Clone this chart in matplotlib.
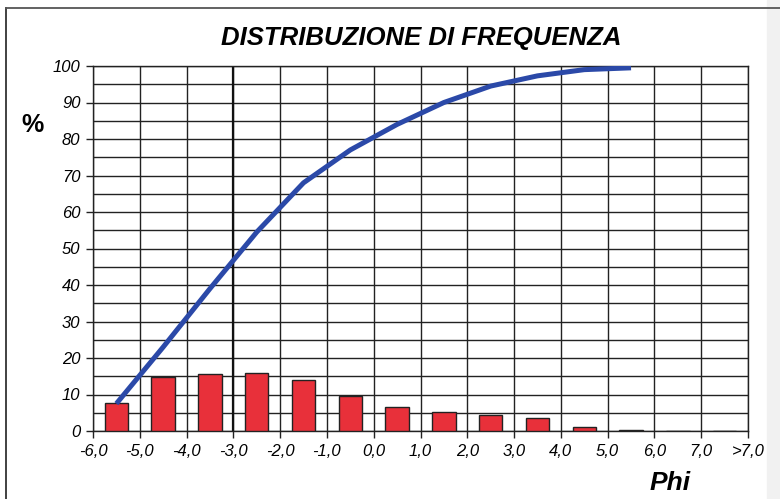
import numpy as np
import matplotlib
matplotlib.use("Agg")
from matplotlib import pyplot as plt

plt.rcParams["font.family"] = ["Liberation Sans", "DejaVu Sans"]

# classi Phi (etichette sui bordi delle classi)
tick_labels = ["-6,0", "-5,0", "-4,0", "-3,0", "-2,0", "-1,0", "0,0", "1,0",
               "2,0", "3,0", "4,0", "5,0", "6,0", "7,0", ">7,0"]
# frequenza percentuale per classe
freq = [7.7, 14.9, 15.6, 15.8, 14.0, 9.6, 6.5, 5.3, 4.4, 3.5, 1.2, 0.3, 0.08, 0.08]
# curva cumulativa
cumul = [7.5, 23.0, 39.0, 54.5, 68.0, 77.0, 84.0, 90.0, 94.5, 97.3, 99.0, 99.5]

fig = plt.figure(figsize=(7.8, 4.99), dpi=100)

# striscia grigia a destra e cornice (solo lati sinistro e superiore)
fig.patches.append(plt.Rectangle((767/780, 0), 13/780, 1, transform=fig.transFigure,
                                 color="#f1f1f1", zorder=0))
fig.lines.append(plt.Line2D([6/780, 6/780], [0, 1-8/499], transform=fig.transFigure,
                            color="#333333", linewidth=1.3))
fig.lines.append(plt.Line2D([6/780, 1], [1-8/499, 1-8/499], transform=fig.transFigure,
                            color="#555555", linewidth=1.3))

ax = fig.add_axes([93/780, 1-431/499, (748-93)/780, (431-66)/499])

x_bar = np.arange(len(freq)) + 0.5
ax.bar(x_bar, freq, width=0.5, color="#e8303a", edgecolor="#222222", linewidth=1.0, zorder=3)

x_cum = np.arange(len(cumul)) + 0.5
ax.plot(x_cum, cumul, color="#2b49a8", linewidth=3.6, solid_capstyle="butt",
        solid_joinstyle="round", zorder=4)

ax.set_xlim(0, len(tick_labels) - 1)
ax.set_ylim(0, 100)
ax.set_xticks(np.arange(len(tick_labels)))
ax.set_xticklabels(tick_labels, fontsize=12, style="italic")
ax.set_yticks(np.arange(0, 101, 10))
ax.set_yticklabels([str(v) for v in range(0, 101, 10)], fontsize=12, style="italic")
ax.set_yticks(np.arange(0, 101, 5), minor=True)
ax.tick_params(axis="y", which="minor", length=0)
ax.tick_params(axis="both", which="major", length=5, width=1, color="#222222", pad=4)

ax.grid(True, which="major", axis="x", color="#222222", linewidth=1.0, zorder=1)
ax.grid(True, which="both", axis="y", color="#222222", linewidth=1.0, zorder=1)
ax.axvline(3, color="#111111", linewidth=1.6, zorder=2)
for s in ax.spines.values():
    s.set_color("#222222")
    s.set_linewidth(1.0)

fig.text(421/780, 1-38/499, "DISTRIBUZIONE DI FREQUENZA", ha="center", va="center",
         fontsize=18.5, fontweight="bold", style="italic")
fig.text(33/780, 1-125/499, "%", ha="center", va="center", fontsize=18, fontweight="bold")
fig.text(670/780, 1-483/499, "Phi", ha="center", va="center", fontsize=19,
         fontweight="bold", style="italic")

fig.savefig("out.png", dpi=100)
